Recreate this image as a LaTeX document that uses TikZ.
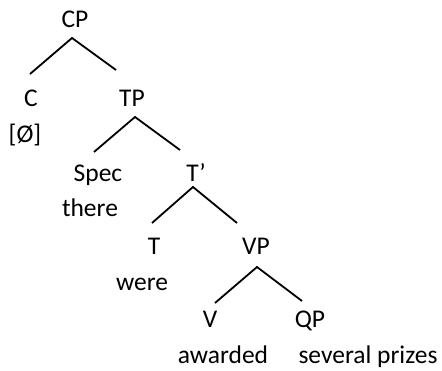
\documentclass[tikz,border=0pt]{standalone}
\usepackage{fontspec}
\setmainfont{Carlito}
\usetikzlibrary{calc}
\begin{document}
\begin{tikzpicture}[x=1pt,y=-1pt,
  lbl/.style={anchor=base,inner sep=0pt,font=\fontsize{25.5}{30}\selectfont},
  br/.style={line width=1.8pt,line cap=butt}]
\useasboundingbox (0,0) rectangle (442,371);
\node[lbl] (CP) at (75,28) {CP};
\node[lbl] (C) at (31,107) {C};
\node[lbl] (null) at (25,143) {[Ø]};
\node[lbl] (TP) at (132,107) {TP};
\node[lbl] (Spec) at (98,182) {Spec};
\node[lbl] (there) at (90,217) {there};
\node[lbl] (Tbar) at (196,182) {T’};
\node[lbl] (T) at (154,255) {T};
\node[lbl] (were) at (142,291) {were};
\node[lbl] (VP) at (256,255) {VP};
\node[lbl] (V) at (210,328) {V};
\node[lbl] (QP) at (310,328) {QP};
\node[lbl] (awarded) at (223,364) {awarded};
\node[lbl] (prizes) at (368,364) {several prizes};
\draw[br] ($(C.base)+(-1,-33)$) -- ($(CP.base)+(-3,10)$) -- ($(TP.base)+(-16,-37)$);
\draw[br] ($(Spec.base)+(-4,-30)$) -- ($(TP.base)+(3,10)$) -- ($(Tbar.base)+(-16,-32)$);
\draw[br] ($(T.base)+(-2,-32)$) -- ($(Tbar.base)+(-3,5)$) -- ($(VP.base)+(-19,-32)$);
\draw[br] ($(V.base)+(5,-25)$) -- ($(VP.base)+(1,12)$) -- ($(QP.base)+(-8,-27)$);
\end{tikzpicture}
\end{document}
